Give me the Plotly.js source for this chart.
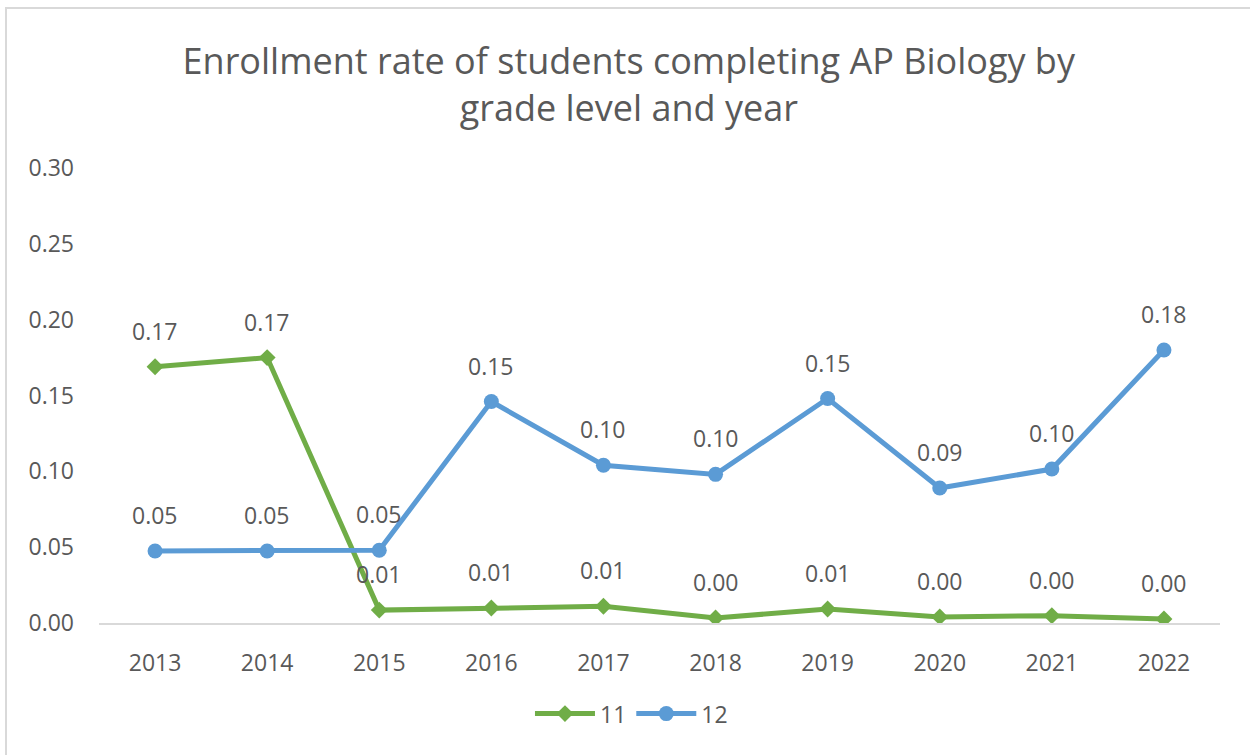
<!DOCTYPE html>
<html>
<head>
<meta charset="utf-8">
<script src="https://cdn.plot.ly/plotly-3.0.1.min.js"></script>
<style>
  html, body { margin: 0; padding: 0; background: #fff; }
  #chart { width: 1250px; height: 755px; }
  /* light chart frame, cropped on right and bottom */
  #frame {
    position: absolute; left: 5px; top: 7px; width: 1260px; height: 760px;
    border-top: 2px solid #d9d9d9; border-left: 2px solid #d9d9d9;
    pointer-events: none;
  }
</style>
</head>
<body>
<div id="chart"></div>
<div id="frame"></div>
<script>
const years = ['2013', '2014', '2015', '2016', '2017', '2018', '2019', '2020', '2021', '2022'];
const grade11 = [0.169, 0.175, 0.0085, 0.0099, 0.011, 0.0033, 0.0092, 0.004, 0.0048, 0.0026];
const grade12 = [0.0475, 0.0475, 0.048, 0.146, 0.104, 0.098, 0.148, 0.089, 0.1015, 0.180];

const textColor = '#595959';
const green = '#70ad47';
const blue = '#5b9bd5';
const fontFamily = '"Open Sans", sans-serif';

// data labels sit well above each point, as in the spreadsheet chart
// (category axis: annotation x is the category index)
function labelsFor(values) {
  return values.map((v, i) => ({
    x: i,
    y: v,
    xref: 'x',
    yref: 'y',
    text: v.toFixed(2),
    showarrow: false,
    yshift: 36,
    font: { family: fontFamily, size: 23, color: textColor }
  }));
}

const traces = [
  {
    x: years,
    y: grade11,
    name: '11',
    mode: 'lines+markers',
    line: { color: green, width: 5 },
    marker: { symbol: 'diamond', size: 13, color: green }
  },
  {
    x: years,
    y: grade12,
    name: '12',
    mode: 'lines+markers',
    line: { color: blue, width: 5 },
    marker: { symbol: 'circle', size: 15, color: blue }
  }
];

const layout = {
  width: 1250,
  height: 755,
  margin: { t: 168, r: 30, b: 132, l: 99 },
  paper_bgcolor: '#fff',
  plot_bgcolor: '#fff',
  font: { family: fontFamily, color: textColor },
  title: {
    text: 'Enrollment rate of students completing AP Biology by<br>grade level and year',
    font: { family: fontFamily, size: 36, color: textColor },
    x: 0.503,
    xanchor: 'center',
    y: 0.902,
    yanchor: 'top'
  },
  xaxis: {
    type: 'category',
    range: [-0.5, 9.5],
    showgrid: false,
    zeroline: false,
    showline: true,
    linecolor: '#d9d9d9',
    linewidth: 2,
    ticks: '',
    ticklabelstandoff: 18,
    tickfont: { family: fontFamily, size: 23, color: textColor }
  },
  yaxis: {
    range: [0, 0.30],
    dtick: 0.05,
    tickformat: '.2f',
    showgrid: false,
    zeroline: false,
    showline: false,
    ticks: '',
    ticklabelstandoff: 24,
    tickfont: { family: fontFamily, size: 23, color: textColor }
  },
  showlegend: true,
  legend: {
    orientation: 'h',
    x: 0.475,
    xanchor: 'center',
    y: -0.152,
    yanchor: 'top',
    font: { family: fontFamily, size: 23, color: textColor },
    itemwidth: 60
  },
  annotations: [...labelsFor(grade11), ...labelsFor(grade12)]
};

Plotly.newPlot('chart', traces, layout, { displayModeBar: false, staticPlot: true });
</script>
</body>
</html>
